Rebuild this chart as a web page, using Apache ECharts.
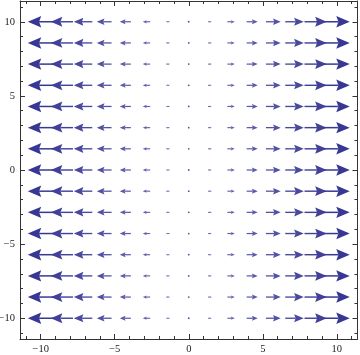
<!DOCTYPE html>
<html><head><meta charset="utf-8">
<script src="https://cdn.jsdelivr.net/npm/echarts@6/dist/echarts.min.js"></script>
<style>html,body{margin:0;padding:0;background:#fff}#c{width:360px;height:355px}</style>
</head><body><div id="c"></div>
<script>
// Grid sample positions (x columns and y rows)
const colX = [-10,-8.571,-7.143,-5.714,-4.286,-2.857,-1.429,0,1.429,2.857,4.286,5.714,7.143,8.571,10];
const rowY = [-10,-8.571,-7.143,-5.714,-4.286,-2.857,-1.429,0,1.429,2.857,4.286,5.714,7.143,8.571,10];
// Vector components read from the arrows: horizontal part per column, vertical part per row
const uByCol = [-10,-8.571,-7.143,-5.714,-4.286,-2.857,-1.429,0,1.429,2.857,4.286,5.714,7.143,8.571,10];
const vByRow = [0,0,0,0,0,0,0,0,0,0,0,0,0,0,0];
// Tick values
const majorTicks = [-10,-5,0,5,10];
const minorTicks = [-11,-10,-9,-8,-7,-6,-5,-4,-3,-2,-1,0,1,2,3,4,5,6,7,8,9,10,11];

const data = [];
rowY.forEach((y,i)=>colX.forEach((x,j)=>data.push([x,y,uByCol[j],vByRow[i]])));

const RANGE = 11.4;
const frameColor = '#333';
const fmt = v => String(v).replace('-', '\u2212');
function axisDef(pos, ticks, len, showLine, showLabels){
  return {
    type:'value', position:pos, min:-RANGE, max:RANGE,
    axisLine:{show:showLine, onZero:false, lineStyle:{color:frameColor, width:1}},
    axisTick:{show:true, inside:true, length:len, customValues:ticks, lineStyle:{color:frameColor, width:1}},
    axisLabel:{show:showLabels, customValues:majorTicks, formatter:fmt, color:'#222',
      fontFamily:'Liberation Serif', fontSize:10.5, margin:5},
    splitLine:{show:false}, minorTick:{show:false}
  };
}
const xAxes = [
  axisDef('bottom',majorTicks,5,true,true),
  axisDef('bottom',minorTicks,3,false,false),
  axisDef('top',majorTicks,5,true,false),
  axisDef('top',minorTicks,3,false,false)
];
const yAxes = [
  axisDef('left',majorTicks,5,true,true),
  axisDef('left',minorTicks,3,false,false),
  axisDef('right',majorTicks,5,true,false),
  axisDef('right',minorTicks,3,false,false)
];

const K = 0.175; // arrow length (data units) per unit of field magnitude
const MAXMAG = 10;
function renderItem(params, api){
  const x = api.value(0), y = api.value(1), u = api.value(2), v = api.value(3);
  const mag = Math.sqrt(u*u+v*v);
  const tip = api.coord([x+u*K/2, y+v*K/2]);
  const tail = api.coord([x-u*K/2, y-v*K/2]);
  const dx = tip[0]-tail[0], dy = tip[1]-tail[1];
  const L = Math.sqrt(dx*dx+dy*dy);
  const col = 'rgb(56,56,148)';
  const f = Math.min(1, mag/MAXMAG);
  const op = 0.7 + 0.3*f;
  if (L < 0.5){
    const c = api.coord([x,y]);
    return {type:'circle', shape:{cx:c[0], cy:c[1], r:0.9}, style:{fill:col, opacity:0.85}};
  }
  const ux = dx/L, uy = dy/L, nx = -uy, ny = ux;
  const headLen = L*0.52, hw = L*0.22, notch = headLen*0.16;
  const bx = tip[0]-ux*headLen, by = tip[1]-uy*headLen;
  const mx = bx+ux*notch, my = by+uy*notch;
  return {type:'group', children:[
    {type:'line', shape:{x1:tail[0], y1:tail[1], x2:mx, y2:my},
      style:{stroke:col, lineWidth:1.0+0.5*f, opacity:op}},
    {type:'polygon', shape:{points:[[tip[0],tip[1]],[bx+nx*hw,by+ny*hw],[mx,my],[bx-nx*hw,by-ny*hw]]},
      style:{fill:col, opacity:op}}
  ]};
}

const chart = echarts.init(document.getElementById('c'), null, {renderer:'canvas'});
chart.setOption({
  animation:false,
  grid:{left:20, right:2.5, top:1, bottom:16, containLabel:false, outerBoundsMode:'none'},
  xAxis:xAxes, yAxis:yAxes,
  series:[{type:'custom', xAxisIndex:0, yAxisIndex:0, renderItem, data, clip:false,
    encode:{x:0, y:1}}]
});
</script></body></html>
